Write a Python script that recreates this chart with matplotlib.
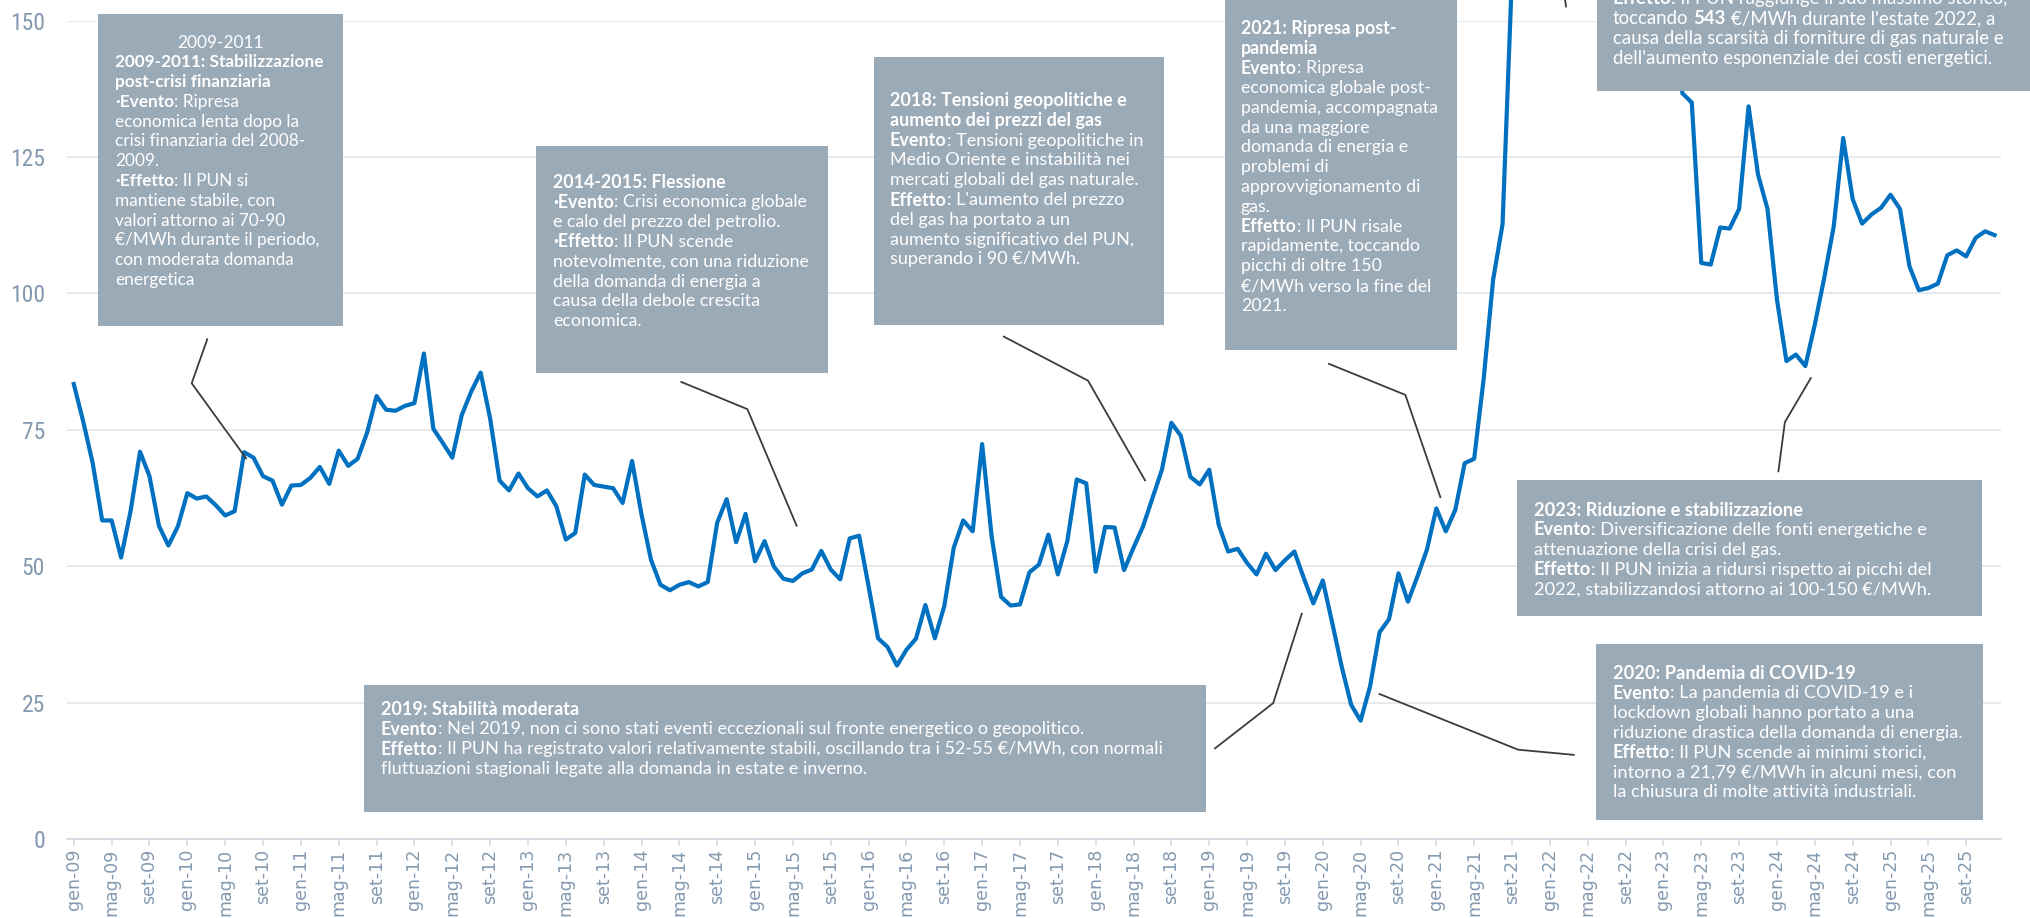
import matplotlib
matplotlib.use("Agg")
import matplotlib.pyplot as plt
from matplotlib import font_manager as fm
from matplotlib.patches import Rectangle
from matplotlib.lines import Line2D

# ---------------- data ----------------
MONTHS = ["gen", "feb", "mar", "apr", "mag", "giu", "lug", "ago", "set", "ott", "nov", "dic"]
YEARS = list(range(2009, 2026))

pun_2009 = [83.4, 76.5, 68.9, 58.4, 58.4, 51.6, 60.1, 71.0, 66.5, 57.4, 53.8, 57.3]
pun_2010 = [63.4, 62.4, 62.8, 61.2, 59.3, 60.1, 70.9, 69.9, 66.5, 65.7, 61.3, 64.8]
pun_2011 = [64.9, 66.2, 68.2, 65.1, 71.2, 68.4, 69.7, 74.5, 81.2, 78.7, 78.5, 79.4]
pun_2012 = [79.9, 89.0, 75.2, 72.6, 69.9, 77.7, 82.0, 85.5, 77.1, 65.7, 63.9, 67.0]
pun_2013 = [64.3, 62.8, 63.9, 61.0, 54.9, 56.1, 66.8, 64.9, 64.6, 64.3, 61.6, 69.3]
pun_2014 = [59.5, 51.2, 46.6, 45.6, 46.6, 47.1, 46.3, 47.1, 58.0, 62.3, 54.4, 59.6]
pun_2015 = [50.9, 54.6, 49.9, 47.7, 47.3, 48.7, 49.4, 52.8, 49.4, 47.6, 55.1, 55.6]
pun_2016 = [46.3, 36.8, 35.2, 31.8, 34.7, 36.7, 42.9, 36.8, 42.7, 53.4, 58.4, 56.4]
pun_2017 = [72.4, 55.5, 44.4, 42.8, 43.0, 48.9, 50.3, 55.8, 48.5, 54.6, 65.9, 65.2]
pun_2018 = [49.0, 57.2, 57.1, 49.3, 53.4, 57.3, 62.5, 67.7, 76.3, 73.9, 66.4, 65.0]
pun_2019 = [67.7, 57.6, 52.7, 53.2, 50.6, 48.5, 52.3, 49.3, 51.1, 52.7, 47.8, 43.2]
pun_2020 = [47.4, 39.6, 31.6, 24.6, 21.7, 28.0, 37.9, 40.3, 48.7, 43.5, 48.1, 53.0]
pun_2021 = [60.6, 56.4, 60.3, 68.9, 69.7, 84.3, 102.5, 112.7, 158.6, 217.6, 225.9, 281.2]
pun_2022 = [224.5, 211.7, 308.1, 245.9, 230.1, 271.3, 441.6, 543.2, 429.9, 211.2, 224.5, 294.9]
pun_2023 = [174.5, 161.1, 136.7, 135.0, 105.6, 105.3, 112.1, 111.9, 115.5, 134.3, 121.8, 115.5]
pun_2024 = [98.9, 87.6, 88.8, 86.7, 94.3, 102.9, 112.3, 128.5, 117.3, 112.8, 114.5, 115.7]
pun_2025 = [118.1, 115.5, 105.0, 100.6, 101.0, 101.8, 107.0, 107.9, 106.8, 110.2, 111.4, 110.7]

pun = (pun_2009 + pun_2010 + pun_2011 + pun_2012 + pun_2013 + pun_2014 + pun_2015 +
       pun_2016 + pun_2017 + pun_2018 + pun_2019 + pun_2020 + pun_2021 + pun_2022 +
       pun_2023 + pun_2024 + pun_2025)
month_labels = [f"{m}-{y % 100:02d}" for y in YEARS for m in MONTHS]
Y_TICKS = [0, 25, 50, 75, 100, 125, 150]

# ---------------- fonts ----------------
avail = {f.name for f in fm.fontManager.ttflist}
BOXFONT = next((f for f in ["Lato", "Roboto", "Open Sans", "Noto Sans"] if f in avail), "DejaVu Sans")
NARROW = next((f for f in ["Liberation Sans Narrow", "Roboto Condensed", "Lato"] if f in avail), "DejaVu Sans")
FAM = [BOXFONT, "DejaVu Sans"]
TICKFAM = [NARROW, "DejaVu Sans"]

# ---------------- figure ----------------
W, H = 2031, 918
fig = plt.figure(figsize=(W / 100, H / 100), dpi=100)
fig.patch.set_facecolor("white")


def fx(xs):
    return xs / 1568.0


def fy(ys):
    return 1 - ys / 709.0


ax = fig.add_axes([fx(52), fy(648), fx(1545) - fx(52), fy(16) - fy(648)])
x = list(range(len(pun)))
ax.plot(x, pun, color="#0070C0", lw=3.0, clip_on=False, zorder=3)
ax.set_xlim(-0.68, 203.7)
ax.set_ylim(0, 150)

ax.set_yticks(Y_TICKS)
ax.set_yticklabels([str(v) for v in Y_TICKS], family=TICKFAM, fontsize=17, color="#8399B0")
ax.tick_params(axis="y", length=0, pad=16)
ax.set_xticks(x[::4])
ax.set_xticklabels(month_labels[::4], rotation=90, family="DejaVu Sans",
                   fontsize=12.5, color="#8399B0")
ax.tick_params(axis="x", length=5, width=1.2, color="#D5DBE2", pad=2)

ax.grid(axis="y", color="#E4E8ED", lw=1.3)
ax.set_axisbelow(True)
for s in ["left", "right", "top"]:
    ax.spines[s].set_visible(False)
ax.spines["bottom"].set_color("#D5DBE2")
ax.spines["bottom"].set_linewidth(1.3)

# ---------------- annotations ----------------
BOX_COLOR = "#9BAAB7"
LINE_COLOR = "#3C3C3C"
FS = 12
LH = 15.3          # line spacing (in 1568-wide reference units)
GAP = 0.28 * FS    # word gap at segment joins, points

ANNOTS = [
    dict(box=(76, 11, 265, 252), x=89, y0=48, width=207, header=("2009-2011", 170.5, 33),
         lines=["**2009-2011: Stabilizzazione**", "**post-crisi finanziaria**",
                "**·Evento**: Ripresa", "economica lenta dopo la", "crisi finanziaria del 2008-",
                "2009.", "**·Effetto**: Il PUN si", "mantiene stabile, con",
                "valori attorno ai 70-90", "€/MWh durante il periodo,", "con moderata domanda",
                "energetica"],
         conn=[(160, 262), (148, 296), (190, 354)]),
    dict(box=(414, 113, 639, 288), x=427, y0=141, width=255,
         lines=["**2014-2015: Flessione**", "**·Evento**: Crisi economica globale",
                "e calo del prezzo del petrolio.", "**·Effetto**: Il PUN scende",
                "notevolmente, con una riduzione", "della domanda di energia a",
                "causa della debole crescita", "economica."],
         conn=[(526, 295), (577, 316), (615, 406)]),
    dict(box=(675, 44, 899, 251), x=687, y0=78, width=252,
         lines=["**2018: Tensioni geopolitiche e**", "**aumento dei prezzi del gas**",
                "**Evento**: Tensioni geopolitiche in", "Medio Oriente e instabilità nei",
                "mercati globali del gas naturale.", "**Effetto**: L'aumento del prezzo",
                "del gas ha portato a un", "aumento significativo del PUN,",
                "superando i 90 €/MWh."],
         conn=[(775, 260), (840, 294), (884, 371)]),
    dict(box=(946, -10, 1125, 270), x=958, y0=22, width=196,
         lines=["**2021: Ripresa post-**", "**pandemia**", "**Evento**: Ripresa",
                "economica globale post-", "pandemia, accompagnata", "da una maggiore",
                "domanda di energia e", "problemi di", "approvvigionamento di", "gas.",
                "**Effetto**: Il PUN risale", "rapidamente, toccando", "picchi di oltre 150",
                "€/MWh verso la fine del", "2021."],
         conn=[(1026, 281), (1085, 305), (1112, 384)]),
    dict(box=(1233, -10, 1580, 70), x=1245, y0=-1, width=393,
         lines=["**Effetto**: Il PUN raggiunge il suo massimo storico,",
                "toccando **543** €/MWh durante l'estate 2022, a",
                "causa della scarsità di forniture di gas naturale e",
                "dell'aumento esponenziale dei costi energetici."],
         conn=[(1207, -10), (1209, 5)]),
    dict(box=(1171, 371, 1530, 476), x=1184, y0=394, width=397,
         lines=["**2023: Riduzione e stabilizzazione**",
                "**Evento**: Diversificazione delle fonti energetiche e",
                "attenuazione della crisi del gas.",
                "**Effetto**: Il PUN inizia a ridursi rispetto ai picchi del",
                "2022, stabilizzandosi attorno ai 100-150 €/MWh."],
         conn=[(1373, 364), (1378, 326), (1398, 292)]),
    dict(box=(1232, 497, 1531, 633), x=1245, y0=520, width=350,
         lines=["**2020: Pandemia di COVID-19**", "**Evento**: La pandemia di COVID-19 e i",
                "lockdown globali hanno portato a una",
                "riduzione drastica della domanda di energia.",
                "**Effetto**: Il PUN scende ai minimi storici,",
                "intorno a 21,79 €/MWh in alcuni mesi, con",
                "la chiusura di molte attività industriali."],
         conn=[(1065, 536), (1172, 579), (1215, 583)]),
    dict(box=(281, 529, 931, 627), x=294, y0=548, width=777,
         lines=["**2019: Stabilità moderata**",
                "**Evento**: Nel 2019, non ci sono stati eventi eccezionali sul fronte energetico o geopolitico.",
                "**Effetto**: Il PUN ha registrato valori relativamente stabili, oscillando tra i 52-55 €/MWh, con normali",
                "fluttuazioni stagionali legate alla domanda in estate e inverno."],
         conn=[(938, 578), (983, 543), (1005, 474)]),
]


def draw_line_segments(xs, ys, s, store):
    parts = s.split("**")
    prev = None
    first = None
    pend_gap = 0.0
    for i, p in enumerate(parts):
        if p == "":
            continue
        bold = (i % 2 == 1)
        gap = pend_gap
        if p.startswith(" "):
            gap = GAP
        txt = p.strip(" ")
        pend_gap = GAP if p.endswith(" ") else 0.0
        kw = dict(family=FAM, fontsize=FS, color="white",
                  fontweight="bold" if bold else "normal",
                  ha="left", va="center", zorder=7)
        if prev is None:
            t = ax.text(fx(xs), fy(ys), txt, transform=fig.transFigure, clip_on=False, **kw)
            first = t
            store["texts"].append((t, None))
        else:
            t = ax.annotate(txt, xy=(1, fy(ys)), xycoords=(prev, fig.transFigure),
                            xytext=(gap, 0), textcoords="offset points",
                            annotation_clip=False, **kw)
            store["texts"].append((t, gap))
        prev = t
    store["lines"].append((first, prev))


groups = []
for a in ANNOTS:
    x0, y0, x1, y1 = a["box"]
    ax.add_patch(Rectangle((fx(x0), fy(y1)), fx(x1) - fx(x0), (y1 - y0) / 709.0,
                           transform=fig.transFigure, facecolor=BOX_COLOR,
                           edgecolor="none", zorder=6, clip_on=False))
    store = dict(texts=[], lines=[], width=a["width"])
    if "header" in a:
        htxt, hx, hy = a["header"]
        ht = ax.text(fx(hx), fy(hy), htxt, transform=fig.transFigure, family=FAM,
                     fontsize=FS, color="white", ha="center", va="center", zorder=7,
                     clip_on=False)
        store["texts"].append((ht, None))
    for k, s in enumerate(a["lines"]):
        draw_line_segments(a["x"], a["y0"] + k * LH, s, store)
    groups.append(store)
    cx = [fx(p[0]) for p in a["conn"]]
    cy = [fy(p[1]) for p in a["conn"]]
    ax.add_line(Line2D(cx, cy, transform=fig.transFigure, color=LINE_COLOR,
                       lw=1.3, zorder=5, clip_on=False))

# fit each box's text size so its widest line matches the reference width
fig.canvas.draw()
r = fig.canvas.get_renderer()
for g in groups:
    widest = 0
    for first, last in g["lines"]:
        w = last.get_window_extent(r).x1 - first.get_window_extent(r).x0
        widest = max(widest, w)
    if widest <= 0:
        continue
    sc = g["width"] / widest
    sc = max(0.8, min(1.3, sc))
    for t, gap in g["texts"]:
        t.set_fontsize(FS * sc)
        if gap is not None:
            t.xyann = (gap * sc, 0)

fig.savefig("out.png", dpi=100, facecolor="white")
